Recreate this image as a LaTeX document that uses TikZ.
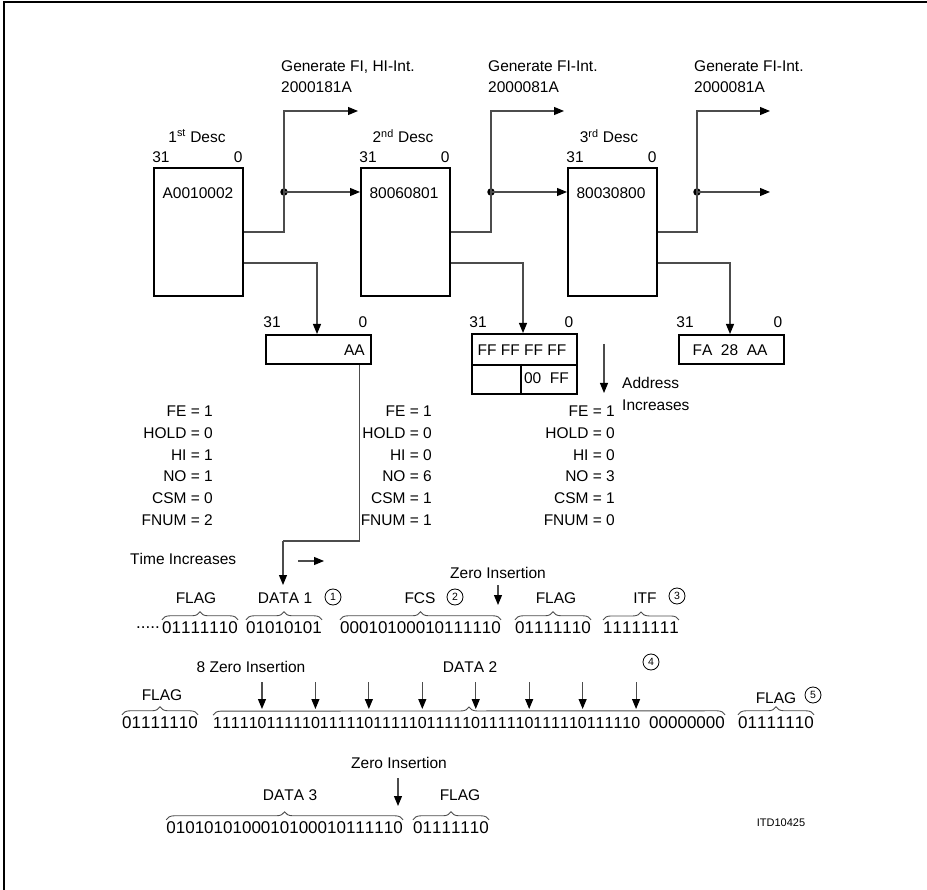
\documentclass[tikz,border=0pt]{standalone}
\usepackage{fontspec}
\setmainfont{Liberation Sans}[Kerning=Off]
\usetikzlibrary{arrows.meta,calc,decorations.pathreplacing}
\begin{document}
\begin{tikzpicture}[x=1pt,y=-1pt,
  txt/.style={font=\fontsize{15.5}{21.7}\selectfont, inner sep=0pt},
  bits/.style={font=\fontsize{17}{19}\selectfont, inner sep=0pt, anchor=west},
  small/.style={font=\fontsize{11}{13}\selectfont, inner sep=0pt},
  desc/.style={draw, line width=2.2pt, minimum width=89pt, minimum height=128pt, inner sep=0pt, anchor=north west},
  reg/.style={draw, line width=2.2pt, minimum width=105pt, minimum height=29pt, inner sep=0pt, anchor=north west},
  wire/.style={draw=black!70, line width=1.1pt},
  arr/.style={-{Triangle[length=10pt,width=8pt,color=black]}},
  dotn/.style={circle, fill=black, inner sep=0pt, minimum size=7.5pt},
  cnum/.style={circle, draw, line width=0.8pt, inner sep=0pt, minimum size=16pt, font=\fontsize{10.5}{10.5}\selectfont},
  brc/.style={draw=black!70, line width=0.9pt, decorate, decoration={brace, amplitude=8pt}}
]
\useasboundingbox (0,0) rectangle (927,890);
\draw[line width=2pt] (4,890) -- (4,2) -- (927,2);

% descriptors
\node[desc] (d1) at (153,167) {};
\node[desc] (d2) at (360,167) {};
\node[desc] (d3) at (567,167) {};
\node[txt] (v1) at (198,193) {A0010002};
\node[txt] (v2) at (404,193) {80060801};
\node[txt] (v3) at (611,193) {80030800};
\foreach \i in {1,2,3}{
  \node[txt] (h\i a) at ([xshift=8pt,yshift=10pt]d\i.north west) {31};
  \node[txt] (h\i b) at ([xshift=-6pt,yshift=10pt]d\i.north east) {0};
}
\node[txt] (n1) at (197,136) {1\textsuperscript{st} Desc};
\node[txt] (n2) at (403,136) {2\textsuperscript{nd} Desc};
\node[txt] (n3) at (609,136) {3\textsuperscript{rd} Desc};

% generate labels
\node[txt, align=left, anchor=north west] (gl1) at (281,60) {Generate FI, HI-Int.\\2000181A};
\node[txt, align=left, anchor=north west] (gl2) at (488,60) {Generate FI-Int.\\2000081A};
\node[txt, align=left, anchor=north west] (gl3) at (694,60) {Generate FI-Int.\\2000081A};

% junctions
\node[dotn] (j1) at (284,192) {};
\node[dotn] (j2) at (491,192) {};
\node[dotn] (j3) at (697,192) {};
\coordinate (ya) at (0,232);
\coordinate (yb) at (0,263);
\coordinate (g1) at (358,111);
\coordinate (g2) at (564,111);
\coordinate (g3) at (770,111);
\coordinate (e3) at (770,192);

% registers
\node[reg] (m1) at (265,334) {};
\node[reg, minimum height=31pt] (m2a) at (471,333) {};
\node[reg] (m2b) at (471,364) {};
\node[reg] (m3) at (678,334) {};
\draw[line width=2.2pt] ([xshift=50pt]m2b.north west) -- ([xshift=50pt]m2b.south west);
\node[txt, anchor=east] (t1) at (365,350) {AA};
\node[txt] (t2) at (522,350) {FF FF FF FF};
\node[txt, anchor=east] (t2b) at (569,378) {00\ \ FF};
\node[txt] (t3) at (730,350) {FA\ \ 28\ \ AA};
\node[txt] (r1a) at (272,322) {31};
\node[txt] (r1b) at (363,322) {0};
\node[txt] (r2a) at (478,322) {31};
\node[txt] (r2b) at (569,322) {0};
\node[txt] (r3a) at (685,322) {31};
\node[txt] (r3b) at (778,322) {0};

% wires
\draw[wire] (d1.east |- ya) -| (j1.center);
\draw[wire,arr] (j1.center) |- (g1);
\draw[wire,arr] (j1.center) -- (d2.west |- j1);
\draw[wire] (d2.east |- ya) -| (j2.center);
\draw[wire,arr] (j2.center) |- (g2);
\draw[wire,arr] (j2.center) -- (d3.west |- j2);
\draw[wire] (d3.east |- ya) -| (j3.center);
\draw[wire,arr] (j3.center) |- (g3);
\draw[wire,arr] (j3.center) -- (e3);
\draw[wire,arr] (d1.east |- yb) -| ([xshift=52pt]m1.north west);
\draw[wire,arr] (d2.east |- yb) -| ([xshift=52pt]m2a.north west);
\draw[wire,arr] (d3.east |- yb) -| ([xshift=52pt]m3.north west);

\coordinate (k1) at (283,541);
\coordinate (k2) at (283,585);
\draw[wire] ([xshift=-13pt]m1.south east) |- (k1);
\draw[wire,arr] (k1) -- (k2);

% address increases
\coordinate (ad1) at (604,344);
\coordinate (ad2) at (604,393);
\draw[wire,arr] (ad1) -- (ad2);
\node[txt, align=left, anchor=north west] (adt) at (622,377) {Address\\Increases};

% parameter blocks
\node[txt, align=right, anchor=north east] (p1) at (213,406) {FE = 1\\HOLD = 0\\HI = 1\\NO = 1\\CSM = 0\\FNUM = 2};
\node[txt, align=right, anchor=north east] (p2) at (432,406) {FE = 1\\HOLD = 0\\HI = 0\\NO = 6\\CSM = 1\\FNUM = 1};
\node[txt, align=right, anchor=north east] (p3) at (615,406) {FE = 1\\HOLD = 0\\HI = 0\\NO = 3\\CSM = 1\\FNUM = 0};

% time increases
\node[txt, anchor=west] (ti) at (130,559) {Time Increases};
\coordinate (ta) at (298,561);
\coordinate (tb) at (324,561);
\draw[wire,arr] (ta) -- (tb);

% row 1
\node[bits, anchor=east] (r1f) at (238,628) {01111110};
\node[bits, anchor=east] (r1dots) at ([xshift=-2pt]r1f.west) {.....};
\node[bits] (r1d) at (246,628) {01010101};
\node[bits] (r1c) at (340,628) {00010100010111110};
\node[bits] (r1g) at (515,628) {01111110};
\node[bits] (r1i) at (603,628) {11111111};
\foreach \n in {r1f,r1d,r1c,r1g,r1i}{
  \draw[brc] ([yshift=2pt]\n.north west) -- ([yshift=2pt]\n.north east);
}
\node[txt] (l1f) at (196,598) {FLAG};
\node[txt] (l1d) at (285,598) {DATA 1};
\node[cnum] (c1) at (333,597) {1};
\node[txt] (l1c) at (420,598) {FCS};
\node[cnum] (c2) at (455,597) {2};
\node[txt] (l1g) at (556,598) {FLAG};
\node[txt] (l1i) at (645,598) {ITF};
\node[cnum] (c3) at (677,596) {3};
\node[txt] (z1) at (498,573) {Zero Insertion};
\coordinate (z1a) at (498,585);
\coordinate (z1b) at (498,605);
\draw[wire,arr] (z1a) -- (z1b);

% row 2
\node[bits] (r2f1) at (122,723) {01111110};
\node[bits, font=\fontsize{16}{19}\selectfont] (r2d) at (213,723) {111110111110111110111110111110111110111110111110};
\node[bits] (r2z) at (649,723) {00000000};
\node[bits] (r2f2) at (738,723) {01111110};
\draw[brc] ([yshift=2pt]r2f1.north west) -- ([yshift=2pt]r2f1.north east);
\draw[brc] ([yshift=2pt]r2d.north west) -- ([yshift=2pt]r2z.north east);
\draw[brc] ([yshift=2pt]r2f2.north west) -- ([yshift=2pt]r2f2.north east);
\node[txt] (l2f1) at (162,695) {FLAG};
\node[txt] (l2z) at (251,667) {8 Zero Insertion};
\node[txt] (l2d) at (470,667) {DATA 2};
\node[cnum] (c4) at (651,662) {4};
\node[txt] (l2f2) at (776,698) {FLAG};
\node[cnum] (c5) at (813,695) {5};
\foreach \k in {1,...,8}{
  \coordinate (q\k) at ($(r2d.west)!{(6*\k-0.5)/48}!(r2d.east)$);
  \draw[wire,arr] (q\k |- 0,682) -- (q\k |- 0,709);
}

% row 3
\node[bits, anchor=east] (r3d) at (403,828) {0101010100010100010111110};
\node[bits] (r3f) at (413,828) {01111110};
\draw[brc] ([yshift=2pt]r3d.north west) -- ([yshift=2pt]r3d.north east);
\draw[brc] ([yshift=2pt]r3f.north west) -- ([yshift=2pt]r3f.north east);
\node[txt] (l3d) at (290,795) {DATA 3};
\node[txt] (l3f) at (460,795) {FLAG};
\node[txt] (z3) at (399,763) {Zero Insertion};
\coordinate (z3a) at (398,778);
\coordinate (z3b) at (398,806);
\draw[wire,arr] (z3a) -- (z3b);

\node[small] (itd) at (781,823) {ITD10425};
\end{tikzpicture}
\end{document}
